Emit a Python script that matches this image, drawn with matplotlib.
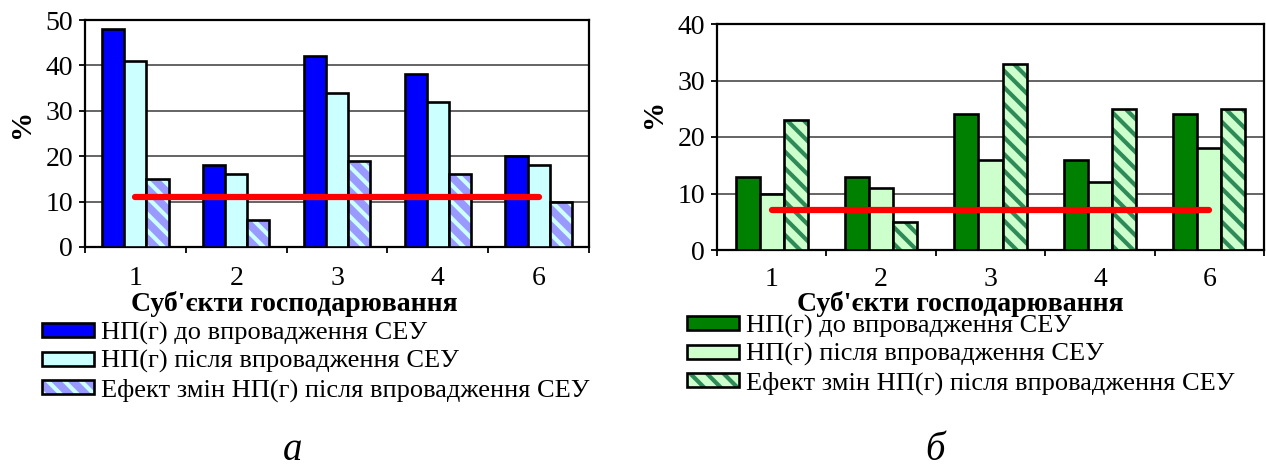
import matplotlib
matplotlib.use("Agg")
import matplotlib.pyplot as plt
import matplotlib.colors as mcolors
import numpy as np

plt.rcParams['font.family'] = ['Liberation Serif', 'DejaVu Serif']
plt.rcParams['hatch.linewidth'] = 3.0

# Subjects of economic activity
categories = ['1', '2', '3', '4', '6']

series_labels = [
    'НП(г) до впровадження СЕУ',
    'НП(г) після впровадження СЕУ',
    'Ефект змін НП(г) після впровадження СЕУ',
]

# Panel а
a_before = [48, 18, 42, 38, 20]
a_after = [41, 16, 34, 32, 18]
a_effect = [15, 6, 19, 16, 10]
a_level = 11

# Panel б
b_before = [13, 13, 24, 16, 24]
b_after = [10, 11, 16, 12, 18]
b_effect = [23, 5, 33, 25, 25]
b_level = 7

W, H = 1266, 470
fig = plt.figure(figsize=(W / 100, H / 100), dpi=100)


def px_axes(x0, y_top, x1, y_bot):
    return fig.add_axes([x0 / W, 1 - y_bot / H, (x1 - x0) / W, (y_bot - y_top) / H])


def draw_panel(ax, values, colors, hatch_face, hatch_col, level, ymax, xpad):
    x = np.arange(len(categories))
    bw = 0.22
    offsets = [-bw, 0, bw]
    containers = []
    for i, vals in enumerate(values):
        if i < 2:
            bc = ax.bar(x + offsets[i], vals, bw, color=colors[i],
                        edgecolor='black', linewidth=1.9, zorder=3)
        else:
            bc = ax.bar(x + offsets[i], vals, bw, color=hatch_face,
                        edgecolor='black', linewidth=1.9, hatch='\\\\', zorder=3)
            for p in bc.patches:
                p._hatch_color = mcolors.to_rgba(hatch_col)
        containers.append(bc)
    ax.plot([x[0], x[-1]], [level, level], color='#ff0000', lw=4.5,
            solid_capstyle='round', zorder=4)
    ax.set_xlim(-0.5, len(categories) - 0.5)
    ax.set_ylim(0, ymax)
    ax.set_yticks(np.arange(0, ymax + 1, 10))
    ax.set_xticks(x)
    ax.set_xticklabels(categories)
    ax.set_xticks(np.arange(-0.5, len(categories), 1.0), minor=True)
    ax.tick_params(axis='x', which='major', length=0, pad=xpad, labelsize=20)
    ax.tick_params(axis='x', which='minor', length=4.5, width=1.3, direction='out')
    ax.tick_params(axis='y', length=4.5, width=1.3, direction='out', pad=4, labelsize=20)
    ax.yaxis.grid(True, color='#3a3a3a', lw=1.1, zorder=0)
    ax.set_axisbelow(True)
    for s in ax.spines.values():
        s.set_linewidth(1.6)
    return containers


ax_a = px_axes(85, 20, 589, 247)
cont_a = draw_panel(ax_a, [a_before, a_after, a_effect], ['#0000ff', '#ccffff'],
                    '#9999ff', '#ccffff', a_level, 50, 14)
ax_b = px_axes(717, 24, 1264, 250)
cont_b = draw_panel(ax_b, [b_before, b_after, b_effect], ['#008000', '#ccffcc'],
                    '#ccffcc', '#2e8b57', b_level, 40, 12)

# axis titles
fig.text(294 / W, 1 - 304 / H, "Суб'єкти господарювання", ha='center', va='center',
         fontsize=20, fontweight='bold')
fig.text(960 / W, 1 - 304 / H, "Суб'єкти господарювання", ha='center', va='center',
         fontsize=20, fontweight='bold')
fig.text(22 / W, 1 - 123 / H, '%', ha='center', va='center', rotation=90,
         fontsize=21, fontweight='bold')
fig.text(654 / W, 1 - 113 / H, '%', ha='center', va='center', rotation=90,
         fontsize=21, fontweight='bold')

leg_kw = dict(loc='upper left', frameon=False, fontsize=19, borderpad=0,
              borderaxespad=0, handlelength=1.97, handleheight=0.45,
              handletextpad=0.27, labelspacing=0.2)
fig.legend(cont_a, series_labels, bbox_to_anchor=(42 / W, 1 - 322 / H), **leg_kw)
fig.legend(cont_b, series_labels, bbox_to_anchor=(687 / W, 1 - 315 / H), **leg_kw)

# panel captions
fig.text(293 / W, 1 - 451 / H, 'а', ha='center', va='center', fontsize=28, style='italic')
fig.text(935 / W, 1 - 451 / H, 'б', ha='center', va='center', fontsize=28, style='italic')

fig.savefig('out.png', dpi=100)
